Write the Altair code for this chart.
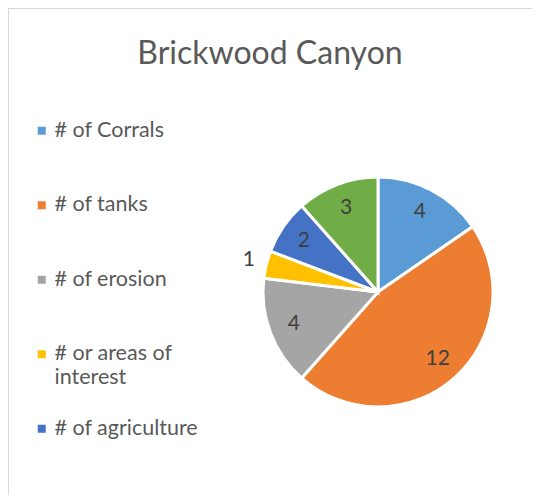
import altair as alt
import pandas as pd

categories = ["# of Corrals", "# of tanks", "# of erosion", "# or areas of interest", "# of agriculture", "# of other"]
values = [4, 12, 4, 1, 2, 3]
colors = ["#5B9BD5", "#ED7D31", "#A5A5A5", "#FFC000", "#4472C4", "#70AD47"]
legend_entries = categories[:5]

df = pd.DataFrame({"category": categories, "value": values, "order": list(range(len(categories)))})
total = sum(values)

W, H = 524, 487
CX, CY = 370, 284

pie = alt.Chart(df).mark_arc(outerRadius=115, stroke="white", strokeWidth=3).encode(
    theta=alt.Theta("value:Q", stack=True, scale=alt.Scale(domain=[0, total])),
    order=alt.Order("order:Q", sort="ascending"),
    x=alt.value(CX),
    y=alt.value(CY),
    color=alt.Color(
        "category:N",
        scale=alt.Scale(domain=categories, range=colors),
        legend=alt.Legend(
            title=None,
            orient="none",
            legendX=23,
            legendY=112,
            values=legend_entries,
            columns=1,
            gridAlign="all",
            symbolType="square",
            symbolSize=64,
            symbolStrokeWidth=0,
            labelFontSize=21.5,
            labelFont="Lato",
            labelColor="#595959",
            labelOffset=2,
            rowPadding=28.5,
            labelLimit=300,
            labelExpr="datum.label == '# or areas of interest' ? ['# or areas of', 'interest'] : datum.label",
        ),
    ),
)

labels = alt.Chart(df).transform_window(
    cum="sum(value)", sort=[alt.SortField("order")], frame=[None, 0]
).transform_calculate(
    mid="datum.cum - datum.value / 2",
    r="datum.value < 2 ? 133 : 90",
).mark_text(fontSize=21, font="Lato", color="#404040").encode(
    theta=alt.Theta("mid:Q", stack=None, scale=alt.Scale(domain=[0, total])),
    radius=alt.Radius("r:Q", scale=None),
    x=alt.value(CX),
    y=alt.value(CY),
    text="value:Q",
)

border_left = alt.Chart(df).mark_rule(color="#d9d9d9", strokeWidth=1).encode(
    x=alt.value(0.5), y=alt.value(0), y2=alt.value(H)
)
border_top = alt.Chart(df).mark_rule(color="#d9d9d9", strokeWidth=1).encode(
    y=alt.value(0.5), x=alt.value(0), x2=alt.value(W)
)

chart = alt.layer(border_left, border_top, pie, labels).properties(
    width=W,
    height=H,
    padding=0,
    autosize=alt.AutoSizeParams(type="none"),
    title=alt.TitleParams(
        "Brickwood Canyon",
        anchor="middle",
        font="Lato",
        fontSize=32,
        fontWeight="normal",
        color="#595959",
        baseline="alphabetic",
        offset=0,
        dy=88,
    ),
).configure_view(stroke=None)

chart.save("out.html", embed_options={"renderer": "svg", "actions": False})
